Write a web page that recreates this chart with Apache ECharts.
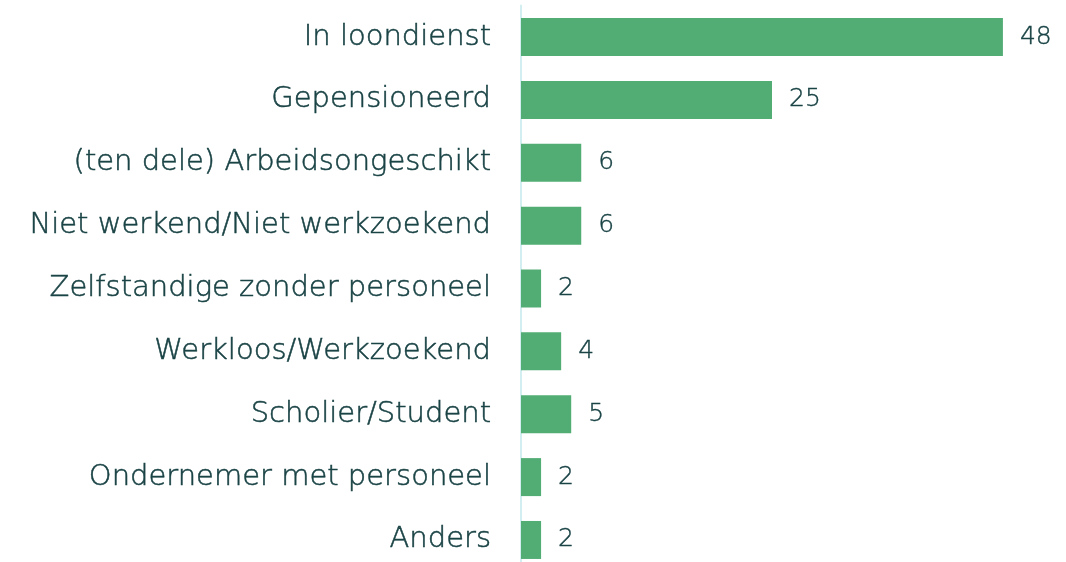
<!DOCTYPE html>
<html>
<head>
<meta charset="utf-8">
<script src="https://cdn.jsdelivr.net/npm/echarts@6/dist/echarts.min.js"></script>
<style>
  html, body { margin: 0; padding: 0; background: #ffffff; overflow: hidden; }
  #chart { width: 1066px; height: 572px; }
</style>
</head>
<body>
<div id="chart"></div>
<script>
// Employment status categories (top to bottom) and their values
const categories = [
  'In loondienst',
  'Gepensioneerd',
  '(ten dele) Arbeidsongeschikt',
  'Niet werkend/Niet werkzoekend',
  'Zelfstandige zonder personeel',
  'Werkloos/Werkzoekend',
  'Scholier/Student',
  'Ondernemer met personeel',
  'Anders'
];
const values = [48, 25, 6, 6, 2, 4, 5, 2, 2];

const textColor = '#1a4345';
const barColor = '#52ad75';
const fontFamily = '"DejaVu Sans", "Open Sans", sans-serif';

const chart = echarts.init(document.getElementById('chart'));
chart.setOption({
  animation: false,
  grid: { left: 521, right: 43, top: 5.6, bottom: 0.6, containLabel: false },
  xAxis: {
    type: 'value',
    min: 0,
    max: 50,
    show: false
  },
  yAxis: {
    type: 'category',
    data: categories,
    inverse: true,
    axisLine: { show: true, lineStyle: { color: '#d3eef0', width: 2 } },
    axisTick: { show: false },
    axisLabel: {
      color: textColor,
      fontFamily: fontFamily,
      fontWeight: 200,
      fontSize: 29,
      margin: 30,
      padding: [0, 0, 6, 0],
      textBorderColor: textColor,
      textBorderWidth: 0.5
    }
  },
  series: [{
    type: 'bar',
    data: values,
    barWidth: 38,
    itemStyle: { color: barColor },
    label: {
      show: true,
      position: 'right',
      distance: 17,
      color: textColor,
      fontFamily: fontFamily,
      fontWeight: 200,
      fontSize: 25,
      textBorderColor: textColor,
      textBorderWidth: 0.4
    }
  }]
});
</script>
</body>
</html>
